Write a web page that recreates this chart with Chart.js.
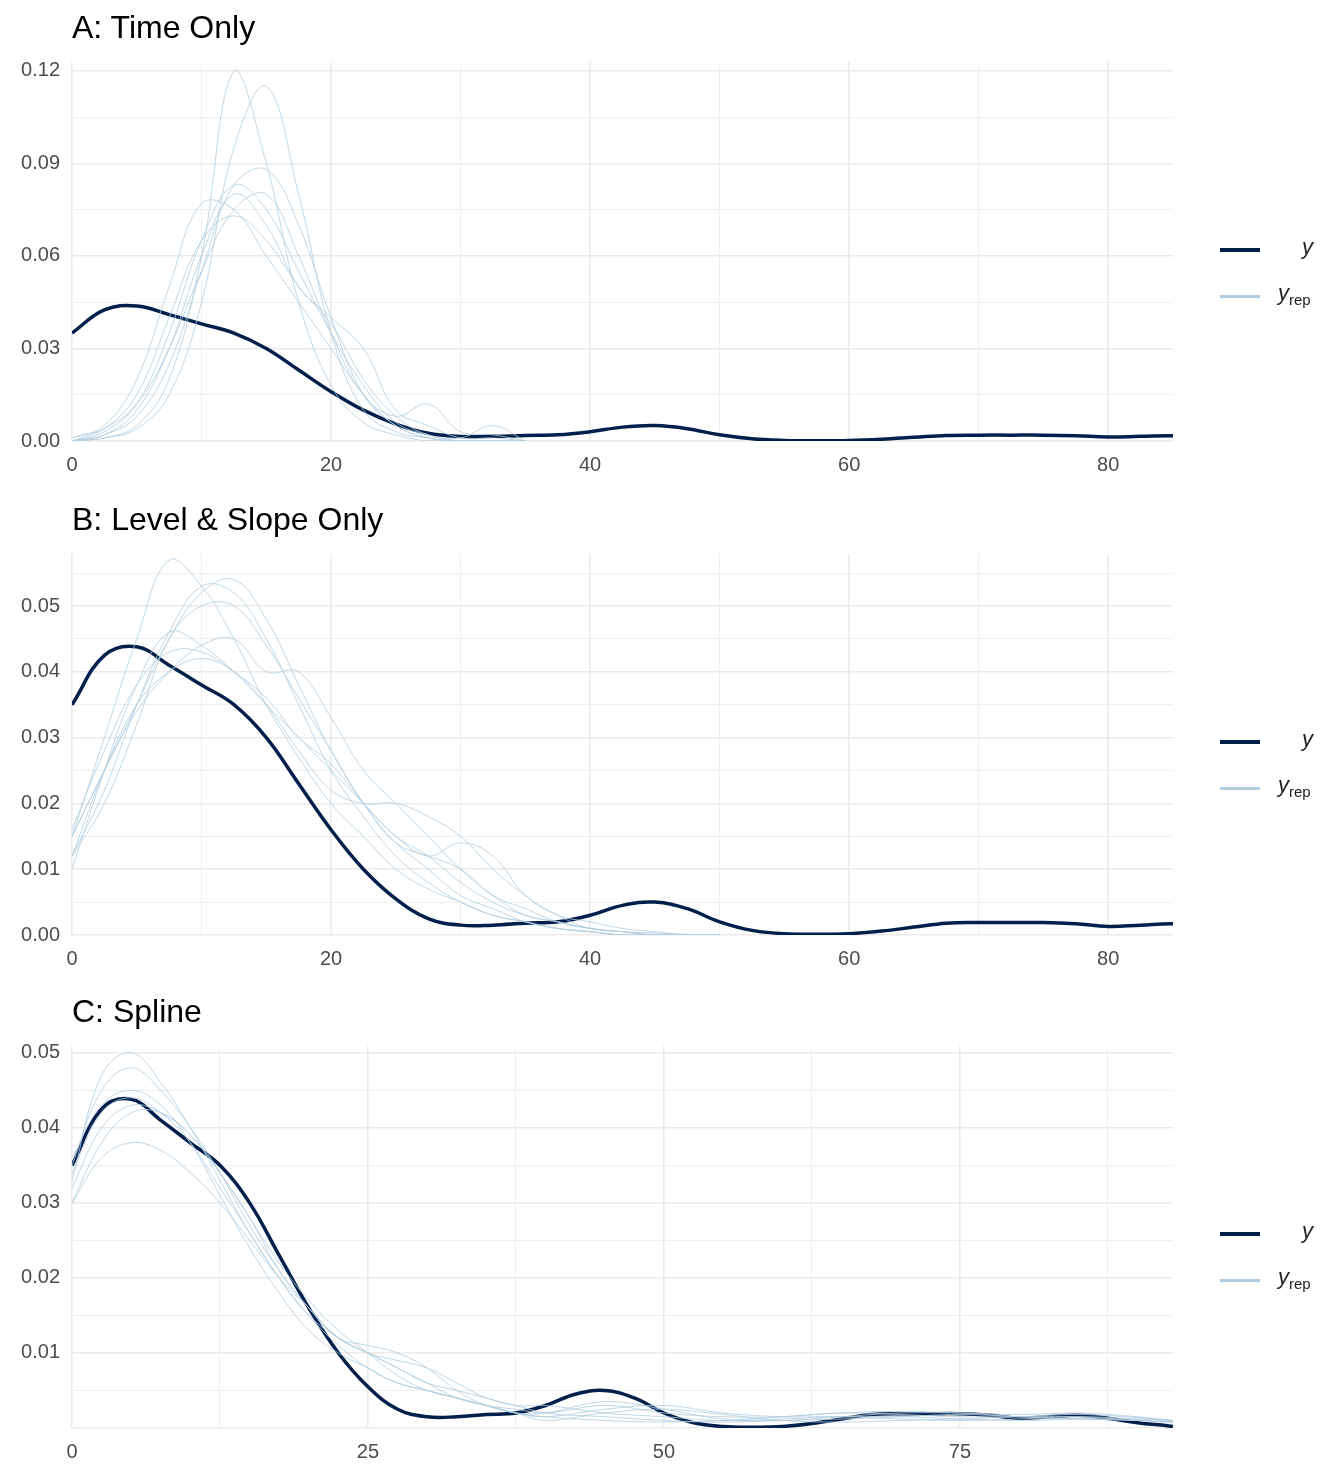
<!DOCTYPE html>
<html>
<head>
<meta charset="utf-8">
<script src="https://cdn.jsdelivr.net/npm/chart.js@4"></script>
<style>
  body { margin: 0; background: #fff; font-family: Arial, "Liberation Sans", sans-serif; }
  .panel { position: absolute; left: 0; width: 1344px; }
  .title { position: absolute; left: 72px; top: 9px; font-size: 32px; color: #000; }
  .leg { position: absolute; left: 1220px; font-size: 22px; color: #222; }
  .leg .ln { position: absolute; left: 0; width: 40px; height: 4px; }
  .leg .tx { position: absolute; left: 58px; font-style: italic; white-space: nowrap; }
  .leg sub { font-style: normal; font-size: 15px; }
</style>
</head>
<body>
<script>
// observed density, shared by all panels
const obsX = [0,2.5,5,7.5,10,12.5,15,17.5,20,22.5,25,27.5,30,32.5,35,37.5,40,42.5,45,47.5,50,52.5,55,57.5,60,62.5,65,67.5,70,72.5,75,77.5,80,82.5,85,87.5,90,92.5,93];
const obsY = [0.035,0.0425,0.0438,0.041,0.038,0.035,0.030,0.023,0.016,0.010,0.0055,0.0025,0.0015,0.0015,0.0018,0.002,0.003,0.0045,0.005,0.004,0.002,0.0007,0.0002,0.0001,0.0002,0.0006,0.0012,0.0018,0.0019,0.0019,0.0019,0.0017,0.0013,0.0015,0.0017,0.0013,0.0007,0.0003,0.0002];

// panel A: time only
const repAX = [0,2.5,5,7.5,10,12.5,15,17.5,20,22.5,25,27.5,30,32.5,35];
const repA = [
  [0,0.001,0.005,0.02,0.06,0.12,0.09,0.045,0.018,0.006,0.002,0,0,0,0],
  [0,0.001,0.004,0.015,0.045,0.095,0.115,0.08,0.035,0.01,0.003,0.001,0,0,0],
  [0,0.002,0.008,0.025,0.055,0.083,0.088,0.07,0.04,0.015,0.005,0.001,0,0,0],
  [0,0.003,0.012,0.035,0.065,0.083,0.075,0.055,0.035,0.018,0.006,0.002,0,0,0],
  [0.001,0.005,0.02,0.05,0.077,0.075,0.06,0.045,0.03,0.015,0.005,0.001,0,0,0],
  [0,0.004,0.015,0.04,0.065,0.073,0.065,0.05,0.038,0.02,0.008,0.002,0.001,0.005,0],
  [0,0.002,0.01,0.03,0.06,0.08,0.07,0.05,0.04,0.03,0.01,0.005,0.001,0.001,0],
  [0.001,0.004,0.012,0.03,0.055,0.075,0.08,0.06,0.035,0.015,0.008,0.012,0.003,0.002,0]
];

// panel B: level & slope only
const repBX = [0,2.5,5,7.5,10,12.5,15,17.5,20,22.5,25,27.5,30,32.5,35,37.5,40,42.5,45,47.5,50];
const repB = [
  [0.015,0.03,0.045,0.057,0.053,0.045,0.035,0.027,0.02,0.015,0.01,0.007,0.005,0.003,0.002,0.001,0.0005,0,0,0,0],
  [0.012,0.022,0.035,0.046,0.053,0.052,0.045,0.035,0.025,0.018,0.012,0.008,0.005,0.003,0.002,0.001,0.0005,0,0,0,0],
  [0.015,0.025,0.035,0.045,0.052,0.054,0.048,0.038,0.028,0.02,0.014,0.01,0.006,0.004,0.002,0.001,0.0005,0,0,0,0],
  [0.01,0.025,0.038,0.046,0.044,0.04,0.035,0.03,0.025,0.02,0.015,0.012,0.008,0.005,0.003,0.002,0.001,0.0005,0,0,0],
  [0.015,0.025,0.034,0.04,0.044,0.045,0.04,0.04,0.033,0.025,0.02,0.015,0.01,0.006,0.003,0.002,0.001,0.0005,0,0,0],
  [0.012,0.025,0.035,0.04,0.042,0.04,0.035,0.028,0.022,0.02,0.02,0.018,0.015,0.01,0.006,0.003,0.002,0.001,0.0005,0,0],
  [0.016,0.028,0.038,0.043,0.043,0.04,0.036,0.03,0.026,0.02,0.015,0.012,0.014,0.012,0.006,0.003,0.001,0.0005,0,0,0],
  [0.012,0.02,0.032,0.045,0.05,0.05,0.044,0.036,0.028,0.02,0.014,0.012,0.01,0.006,0.004,0.002,0.001,0.0005,0.0003,0.0001,0]
];

// panel C: spline
const repCX = [0,2.5,5,7.5,10,12.5,15,17.5,20,22.5,25,27.5,30,32.5,35,37.5,40,45,50,55,60,65,70,75,80,85,90,93];
const repC = [
  [0.033,0.047,0.05,0.046,0.04,0.033,0.026,0.02,0.015,0.011,0.008,0.006,0.005,0.004,0.003,0.0025,0.002,0.003,0.002,0.0015,0.0015,0.002,0.0018,0.0015,0.0015,0.0015,0.001,0.0008],
  [0.03,0.036,0.038,0.037,0.034,0.03,0.025,0.02,0.016,0.012,0.01,0.008,0.006,0.005,0.004,0.003,0.003,0.002,0.0015,0.001,0.0012,0.0015,0.0015,0.0012,0.001,0.0012,0.0012,0.001],
  [0.035,0.045,0.048,0.045,0.04,0.034,0.027,0.021,0.016,0.012,0.01,0.008,0.006,0.004,0.003,0.002,0.002,0.0035,0.0025,0.0012,0.001,0.0015,0.002,0.002,0.0018,0.002,0.0015,0.001],
  [0.034,0.042,0.044,0.042,0.038,0.032,0.026,0.02,0.015,0.012,0.01,0.009,0.008,0.006,0.004,0.003,0.002,0.0015,0.001,0.0008,0.001,0.0012,0.0015,0.0018,0.0015,0.0012,0.001,0.0007],
  [0.032,0.04,0.043,0.042,0.039,0.034,0.028,0.021,0.016,0.012,0.011,0.01,0.008,0.005,0.003,0.002,0.0015,0.0025,0.003,0.002,0.0015,0.0015,0.0012,0.001,0.0012,0.0015,0.0012,0.0009],
  [0.036,0.043,0.045,0.043,0.038,0.031,0.024,0.018,0.013,0.01,0.008,0.006,0.005,0.004,0.003,0.002,0.0015,0.001,0.0008,0.001,0.0015,0.002,0.0022,0.002,0.0015,0.0012,0.001,0.0008],
  [0.03,0.038,0.042,0.042,0.039,0.034,0.028,0.022,0.017,0.013,0.01,0.007,0.005,0.004,0.003,0.002,0.001,0.002,0.0025,0.0018,0.001,0.0008,0.001,0.0012,0.0015,0.0018,0.0014,0.001]
];

const DARK = '#011f4b', LIGHT = '#b3cde0';

function pts(xs, ys) { return xs.map((x, i) => ({x, y: ys[i]})); }

function isMajor(v, step) { return Math.abs(Math.round(v / step) - v / step) < 1e-6; }

function makePanel(top, height, title, xMax, xStep, yMax, yStep, hideZeroY, xAxisH, repX, reps) {
  const div = document.createElement('div');
  div.className = 'panel';
  div.style.top = top + 'px';
  div.style.height = height + 'px';
  div.innerHTML = `<div class="title">${title}</div>
    <div class="leg" style="top:0">
      <div class="ln" style="top:248px;background:${DARK}"></div><div class="tx" style="top:234px;left:82px">y</div>
      <div class="ln" style="top:295px;background:${LIGHT};height:3px"></div><div class="tx" style="top:280px">y<sub>rep</sub></div>
    </div>`;
  const canvas = document.createElement('canvas');
  canvas.width = 1344; canvas.height = height;
  canvas.style.width = '1344px'; canvas.style.height = height + 'px';
  div.appendChild(canvas);
  document.body.appendChild(div);

  const datasets = reps.map(r => ({data: pts(repX, r), borderColor: LIGHT, borderWidth: 0.8}));
  datasets.push({data: pts(obsX, obsY), borderColor: DARK, borderWidth: 3.5});

  new Chart(canvas, {
    type: 'line',
    data: {datasets},
    options: {
      responsive: false, animation: false,
      layout: {padding: {top: 62, right: 171, left: 0, bottom: 0}},
      elements: {point: {radius: 0}, line: {tension: 0.4}},
      plugins: {legend: {display: false}, tooltip: {enabled: false}},
      scales: {
        x: {
          type: 'linear', min: 0, max: xMax,
          afterFit: s => { s.height = xAxisH; },
          border: {display: false},
          grid: {color: '#ebebeb', lineWidth: c => isMajor(c.tick.value, xStep * 2) ? 1.6 : 0.8, drawTicks: false},
          ticks: {stepSize: xStep, includeBounds: false, padding: 12, color: '#4d4d4d', font: {size: 20},
            maxRotation: 0, autoSkip: false,
            callback: v => isMajor(v, xStep * 2) ? String(v) : ''}
        },
        y: {
          min: 0, max: yMax,
          afterFit: s => { s.width = 72; },
          border: {display: false},
          grid: {color: '#ebebeb', lineWidth: c => isMajor(c.tick.value, yStep * 2) ? 1.6 : 0.8, drawTicks: false},
          ticks: {stepSize: yStep, includeBounds: false, padding: 12, color: '#4d4d4d', font: {size: 20}, autoSkip: false,
            callback: v => (isMajor(v, yStep * 2) && !(hideZeroY && v === 0)) ? v.toFixed(2) : ''}
        }
      }
    }
  });
}

makePanel(0, 490, 'A: Time Only', 85, 10, 0.1229, 0.015, false, 49, repAX, repA);
makePanel(492, 492, 'B: Level &amp; Slope Only', 85, 10, 0.0579, 0.005, false, 49, repBX, repB);
makePanel(984, 490, 'C: Spline', 93, 12.5, 0.0509, 0.005, true, 46, repCX, repC);
</script>
</body>
</html>
